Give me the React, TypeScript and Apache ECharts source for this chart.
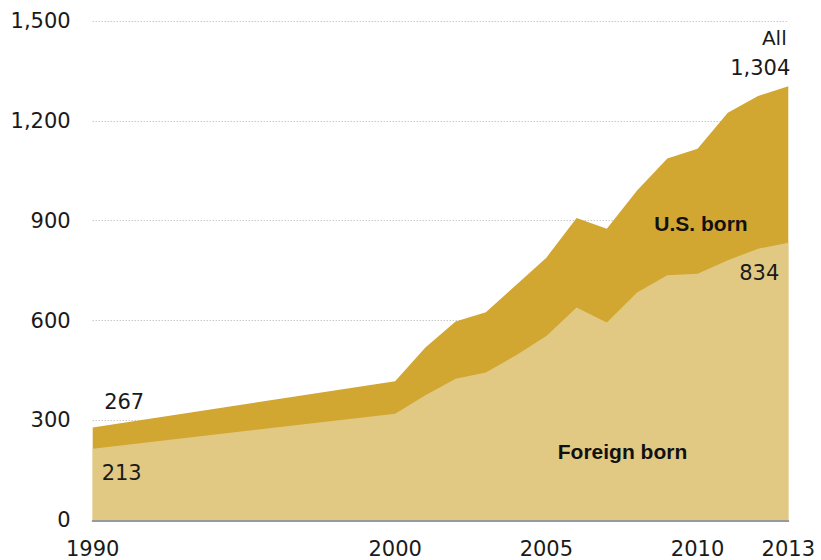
import React, { useEffect, useRef } from "react";
import * as echarts from "echarts";

const years = [1990, 2000, 2001, 2002, 2003, 2004, 2005, 2006, 2007, 2008, 2009, 2010, 2011, 2012, 2013];
const allValues = [279, 418, 519, 597, 625, 707, 789, 908, 876, 991, 1087, 1116, 1224, 1275, 1304];
const foreignValues = [215, 320, 376, 425, 444, 496, 554, 639, 594, 684, 736, 741, 781, 816, 834];
const xTickLabels = [1990, 2000, 2005, 2010, 2013];
const startAllLabel = "267";
const startForeignLabel = "213";
const endAllLabel = "1,304";
const endForeignLabel = "834";

const DARK = "#D1A631";
const LIGHT = "#E1C984";
const NUM_FONT = "DejaVu Sans";
const BOLD_FONT = "Liberation Sans";

export default function App() {
  const ref = useRef<HTMLDivElement>(null);
  useEffect(() => {
    document.body.style.margin = "0";
    if (!ref.current) return;
    const chart = echarts.init(ref.current, null, { renderer: "svg" });
    const allData = years.map((y, i) => [y, allValues[i]]);
    const foreignData = years.map((y, i) => [y, foreignValues[i]]);
    chart.setOption({
      animation: false,
      grid: { left: 92.7, right: 32.7, top: 21, bottom: 39.7, containLabel: false },
      xAxis: {
        type: "value",
        min: 1990,
        max: 2013,
        z: 10,
        axisLine: { show: true, lineStyle: { color: "#999999", width: 2 } },
        axisTick: { show: false },
        splitLine: { show: false },
        axisLabel: {
          customValues: xTickLabels,
          formatter: (v: number) => String(v),
          color: "#1a1a1a",
          fontFamily: NUM_FONT,
          fontSize: 21,
          margin: 18,
        },
      },
      yAxis: {
        type: "value",
        min: 0,
        max: 1500,
        interval: 300,
        axisLine: { show: false },
        axisTick: { show: false },
        splitLine: { show: true, lineStyle: { color: "#b0b0b0", type: [1, 2], width: 1 } },
        axisLabel: {
          color: "#1a1a1a",
          fontFamily: NUM_FONT,
          fontSize: 21,
          margin: 22,
          formatter: (v: number) => v.toLocaleString("en-US"),
        },
      },
      series: [
        {
          name: "All",
          type: "line",
          data: allData,
          showSymbol: false,
          lineStyle: { width: 0 },
          areaStyle: { color: DARK, opacity: 1 },
          z: 2,
        },
        {
          name: "Foreign born",
          type: "line",
          data: foreignData,
          showSymbol: false,
          lineStyle: { width: 0 },
          areaStyle: { color: LIGHT, opacity: 1 },
          z: 3,
        },
      ],
    });

    const p = (x: number, y: number) => chart.convertToPixel({ gridIndex: 0 }, [x, y]) as number[];
    const n = years.length - 1;
    const a0 = p(years[0], allValues[0]);
    const f0 = p(years[0], foreignValues[0]);
    const aN = p(years[n], allValues[n]);
    const fN = p(years[n], foreignValues[n]);
    const numStyle = (text: string, align: string) => ({
      text,
      fill: "#1a1a1a",
      font: `21px "${NUM_FONT}"`,
      align,
      verticalAlign: "middle",
    });
    chart.setOption({
      graphic: [
        { type: "text", x: a0[0] + 31.5, y: a0[1] - 25, z: 20, style: numStyle(startAllLabel, "center") },
        { type: "text", x: f0[0] + 29, y: f0[1] + 24, z: 20, style: numStyle(startForeignLabel, "center") },
        { type: "text", x: aN[0] + 2, y: aN[1] - 18, z: 20, style: numStyle(endAllLabel, "right") },
        { type: "text", x: aN[0] - 1.6, y: aN[1] - 48.6, z: 20, style: { ...numStyle("All", "right"), font: `20px "${NUM_FONT}"` } },
        { type: "text", x: fN[0] - 9, y: fN[1] + 30.7, z: 20, style: numStyle(endForeignLabel, "right") },
        {
          type: "text", x: 701, y: 223, z: 20,
          style: { text: "U.S. born", fill: "#111", font: `bold 21px "${BOLD_FONT}"`, align: "center", verticalAlign: "middle" },
        },
        {
          type: "text", x: 622.5, y: 451, z: 20,
          style: { text: "Foreign born", fill: "#111", font: `bold 21px "${BOLD_FONT}"`, align: "center", verticalAlign: "middle" },
        },
      ],
    });
    return () => chart.dispose();
  }, []);
  return <div ref={ref} style={{ width: 821, height: 560 }} />;
}
